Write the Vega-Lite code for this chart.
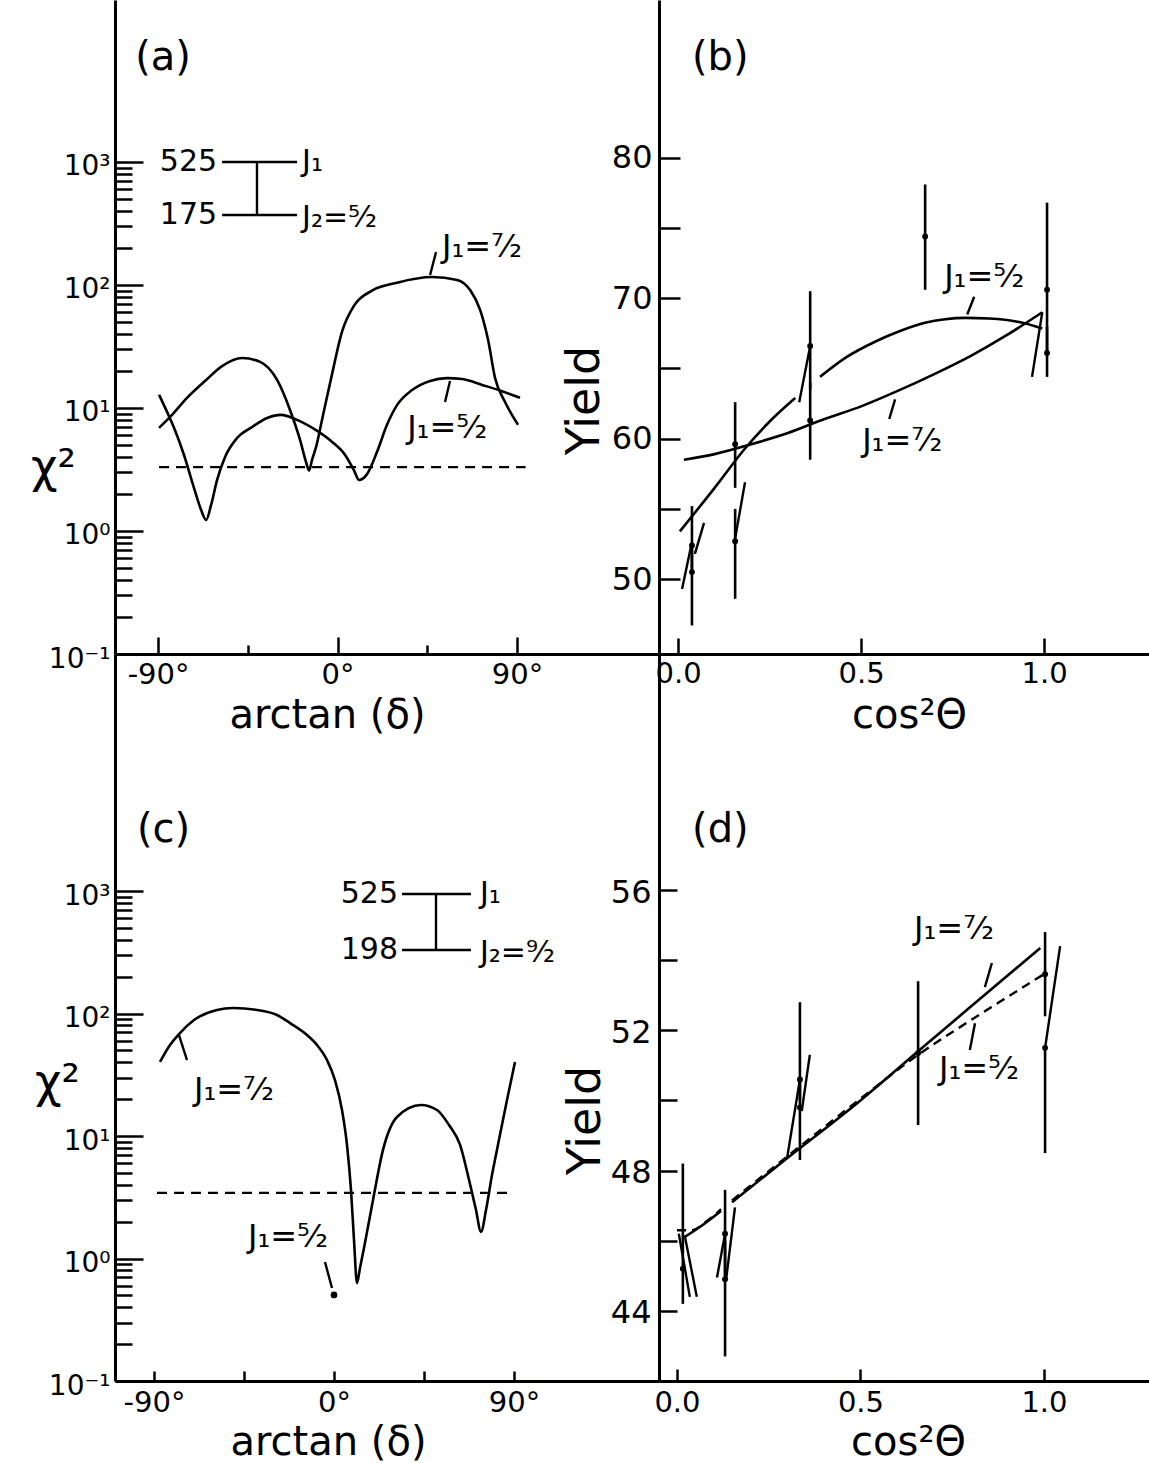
{
  "$schema": "https://vega.github.io/schema/vega-lite/v6.json",
  "background": "white",
  "padding": {"left": 30, "top": 0, "right": 0, "bottom": 0},
  "config": {
    "font": "DejaVu Sans",
    "view": {"stroke": null},
    "axis": {"domainColor": "black", "domainWidth": 3, "tickColor": "black", "tickWidth": 2.5, "labelColor": "black", "titleColor": "black", "titleFontWeight": "normal", "grid": false, "labelFlush": false, "labelOverlap": false, "labelBound": false}
  },
  "datasets": {
    "curvesA": [
      {"J": "7/2", "deg": -89.5, "chi": 6.9}, {"J": "7/2", "deg": -83, "chi": 8.8}, {"J": "7/2", "deg": -75.5, "chi": 12.1}, {"J": "7/2", "deg": -65.9, "chi": 16.9}, {"J": "7/2", "deg": -57.9, "chi": 21.9}, {"J": "7/2", "deg": -47.9, "chi": 25.5}, {"J": "7/2", "deg": -38.8, "chi": 23.7}, {"J": "7/2", "deg": -30.3, "chi": 16.9}, {"J": "7/2", "deg": -23.8, "chi": 9.6}, {"J": "7/2", "deg": -18.8, "chi": 5.5}, {"J": "7/2", "deg": -15.8, "chi": 3.64}, {"J": "7/2", "deg": -14.3, "chi": 3.1}, {"J": "7/2", "deg": -12.8, "chi": 3.78}, {"J": "7/2", "deg": -10.8, "chi": 4.8}, {"J": "7/2", "deg": -7.8, "chi": 8.0}, {"J": "7/2", "deg": -3.2, "chi": 17.5}, {"J": "7/2", "deg": 2.3, "chi": 42}, {"J": "7/2", "deg": 8.3, "chi": 68}, {"J": "7/2", "deg": 17.3, "chi": 90}, {"J": "7/2", "deg": 29.9, "chi": 104.5}, {"J": "7/2", "deg": 47.4, "chi": 116}, {"J": "7/2", "deg": 60, "chi": 110}, {"J": "7/2", "deg": 66.5, "chi": 91}, {"J": "7/2", "deg": 71.5, "chi": 62.7}, {"J": "7/2", "deg": 75.5, "chi": 35.7}, {"J": "7/2", "deg": 79, "chi": 17.5}, {"J": "7/2", "deg": 84, "chi": 11.2}, {"J": "7/2", "deg": 90.5, "chi": 7.3},
      {"J": "5/2", "deg": -89.5, "chi": 12.8}, {"J": "5/2", "deg": -85.5, "chi": 9.3}, {"J": "5/2", "deg": -81.5, "chi": 6.6}, {"J": "5/2", "deg": -77, "chi": 4.15}, {"J": "5/2", "deg": -72, "chi": 2.24}, {"J": "5/2", "deg": -68.4, "chi": 1.48}, {"J": "5/2", "deg": -65.9, "chi": 1.23}, {"J": "5/2", "deg": -63.4, "chi": 1.63}, {"J": "5/2", "deg": -60.4, "chi": 2.6}, {"J": "5/2", "deg": -56.4, "chi": 4.0}, {"J": "5/2", "deg": -50.4, "chi": 5.7}, {"J": "5/2", "deg": -42.9, "chi": 7.0}, {"J": "5/2", "deg": -35.3, "chi": 8.3}, {"J": "5/2", "deg": -28.3, "chi": 8.8}, {"J": "5/2", "deg": -20.3, "chi": 8.0}, {"J": "5/2", "deg": -10.8, "chi": 6.6}, {"J": "5/2", "deg": -2.7, "chi": 5.3}, {"J": "5/2", "deg": 3.8, "chi": 4.15}, {"J": "5/2", "deg": 8.3, "chi": 3.1}, {"J": "5/2", "deg": 10.8, "chi": 2.6}, {"J": "5/2", "deg": 14.8, "chi": 2.9}, {"J": "5/2", "deg": 19.8, "chi": 4.4}, {"J": "5/2", "deg": 24.8, "chi": 7.3}, {"J": "5/2", "deg": 29.9, "chi": 10.6}, {"J": "5/2", "deg": 37.4, "chi": 14}, {"J": "5/2", "deg": 46.4, "chi": 16.6}, {"J": "5/2", "deg": 54.9, "chi": 17.5}, {"J": "5/2", "deg": 62.5, "chi": 17.2}, {"J": "5/2", "deg": 72.5, "chi": 15.4}, {"J": "5/2", "deg": 82.5, "chi": 13.7}, {"J": "5/2", "deg": 91.5, "chi": 12.1}
    ],
    "curvesC": [
      {"deg": -87, "chi": 40.2}, {"deg": -82, "chi": 55.3}, {"deg": -77.5, "chi": 68}, {"deg": -70, "chi": 88.5}, {"deg": -58.5, "chi": 107}, {"deg": -50.5, "chi": 110.9}, {"deg": -38.5, "chi": 107}, {"deg": -28.5, "chi": 97.3}, {"deg": -22, "chi": 83.6}, {"deg": -13.5, "chi": 66.7}, {"deg": -8.5, "chi": 55.3}, {"deg": -3.5, "chi": 41.7}, {"deg": 0.5, "chi": 28.6}, {"deg": 4, "chi": 16.3}, {"deg": 6.5, "chi": 8.45}, {"deg": 8.5, "chi": 3.62}, {"deg": 10, "chi": 1.42}, {"deg": 11.5, "chi": 0.63}, {"deg": 13, "chi": 0.836}, {"deg": 15, "chi": 1.22}, {"deg": 19.5, "chi": 3.0}, {"deg": 24.5, "chi": 7.7}, {"deg": 31.5, "chi": 14.3}, {"deg": 43.5, "chi": 17.9}, {"deg": 51.5, "chi": 16.3}, {"deg": 57.5, "chi": 12.3}, {"deg": 63, "chi": 8.5}, {"deg": 67.5, "chi": 4.4}, {"deg": 71, "chi": 2.49}, {"deg": 73.5, "chi": 1.65}, {"deg": 76, "chi": 2.49}, {"deg": 79, "chi": 4.8}, {"deg": 82, "chi": 8.5}, {"deg": 86.5, "chi": 19.7}, {"deg": 90.5, "chi": 40.2}
    ],
    "linesB": [
      {"seg": "a", "c": 0.016, "Y": 58.5}, {"seg": "a", "c": 0.1, "Y": 58.9}, {"seg": "a", "c": 0.2, "Y": 59.6}, {"seg": "a", "c": 0.3, "Y": 60.4}, {"seg": "a", "c": 0.4, "Y": 61.4}, {"seg": "a", "c": 0.5, "Y": 62.3}, {"seg": "a", "c": 0.6, "Y": 63.4}, {"seg": "a", "c": 0.7, "Y": 64.6}, {"seg": "a", "c": 0.8, "Y": 65.9}, {"seg": "a", "c": 0.9, "Y": 67.4}, {"seg": "a", "c": 0.995, "Y": 69.0},
      {"seg": "b", "c": 0.005, "Y": 53.4}, {"seg": "b", "c": 0.1, "Y": 56.5}, {"seg": "b", "c": 0.183, "Y": 59.3}, {"seg": "b", "c": 0.257, "Y": 61.4}, {"seg": "b", "c": 0.32, "Y": 62.9},
      {"seg": "c", "c": 0.388, "Y": 64.4}, {"seg": "c", "c": 0.46, "Y": 65.8}, {"seg": "c", "c": 0.538, "Y": 66.9}, {"seg": "c", "c": 0.61, "Y": 67.7}, {"seg": "c", "c": 0.675, "Y": 68.25}, {"seg": "c", "c": 0.73, "Y": 68.5}, {"seg": "c", "c": 0.784, "Y": 68.6}, {"seg": "c", "c": 0.85, "Y": 68.55}, {"seg": "c", "c": 0.932, "Y": 68.3}, {"seg": "c", "c": 0.995, "Y": 67.85}
    ],
    "linesD": [
      {"J": "7/2", "seg": "a", "c": 0.02, "Y": 46.1}, {"J": "7/2", "seg": "a", "c": 0.07, "Y": 46.45}, {"J": "7/2", "seg": "a", "c": 0.12, "Y": 46.85},
      {"J": "7/2", "seg": "b", "c": 0.15, "Y": 47.1}, {"J": "7/2", "seg": "b", "c": 0.3, "Y": 48.35}, {"J": "7/2", "seg": "b", "c": 0.5, "Y": 50.0}, {"J": "7/2", "seg": "b", "c": 0.657, "Y": 51.4}, {"J": "7/2", "seg": "b", "c": 0.8, "Y": 52.67}, {"J": "7/2", "seg": "b", "c": 0.99, "Y": 54.35},
      {"J": "5/2", "seg": "c", "c": 0.0, "Y": 46.3}, {"J": "5/2", "seg": "c", "c": 0.04, "Y": 46.3}, {"J": "5/2", "seg": "c", "c": 0.08, "Y": 46.55}, {"J": "5/2", "seg": "c", "c": 0.12, "Y": 46.9},
      {"J": "5/2", "seg": "d", "c": 0.15, "Y": 47.15}, {"J": "5/2", "seg": "d", "c": 0.3, "Y": 48.4}, {"J": "5/2", "seg": "d", "c": 0.5, "Y": 50.05}, {"J": "5/2", "seg": "d", "c": 0.657, "Y": 51.3}, {"J": "5/2", "seg": "d", "c": 0.81, "Y": 52.35}, {"J": "5/2", "seg": "d", "c": 1.0, "Y": 53.6}
    ],
    "ptsB": [
      {"c": 0.038, "Y": 52.4, "lo": 50.5, "hi": 55.2}, {"c": 0.038, "Y": 50.5, "lo": 46.7, "hi": 52.4},
      {"c": 0.156, "Y": 59.6, "lo": 56.5, "hi": 62.6}, {"c": 0.156, "Y": 52.7, "lo": 48.6, "hi": 55.0},
      {"c": 0.361, "Y": 66.6, "lo": 63.5, "hi": 70.5}, {"c": 0.361, "Y": 61.3, "lo": 58.5, "hi": 64.0},
      {"c": 0.675, "Y": 74.4, "lo": 70.6, "hi": 78.1},
      {"c": 1.008, "Y": 70.6, "lo": 66.0, "hi": 76.8}, {"c": 1.008, "Y": 66.1, "lo": 64.4, "hi": 68.0}
    ],
    "ptsD": [
      {"c": 1.003, "Y": 53.6, "lo": 52.4, "hi": 54.8}, {"c": 1.003, "Y": 51.5, "lo": 48.5, "hi": 51.5},
      {"c": 0.657, "Y": 51.35, "lo": 49.3, "hi": 53.4},
      {"c": 0.335, "Y": 50.6, "lo": 50.0, "hi": 52.8}, {"c": 0.335, "Y": 49.8, "lo": 48.3, "hi": 50.6},
      {"c": 0.131, "Y": 46.2, "lo": 45.0, "hi": 47.45}, {"c": 0.131, "Y": 44.9, "lo": 42.7, "hi": 46.0},
      {"c": 0.016, "Y": 45.2, "lo": 44.2, "hi": 48.2}
    ],
    "ptC": [{"deg": 0, "chi": 0.504}],
    "dashes": [
      {"panel": "a", "x1": -89.5, "x2": 94.3, "y": 3.31},
      {"panel": "c", "x1": -88.5, "x2": 86.5, "y": 3.43}
    ],
    "segs": [
      {"panel": "a", "x1": -57.9, "x2": -20.3, "y1": 1000, "y2": 1000},
      {"panel": "a", "x1": -57.9, "x2": -20.3, "y1": 371, "y2": 371},
      {"panel": "a", "x1": -40.4, "x2": -40.4, "y1": 371, "y2": 1000},
      {"panel": "a", "x1": 46.4, "x2": 49.4, "y1": 120.5, "y2": 185},
      {"panel": "a", "x1": 53.9, "x2": 56.4, "y1": 11.2, "y2": 16.6},
      {"panel": "c", "x1": 34, "x2": 68.5, "y1": 946, "y2": 946},
      {"panel": "c", "x1": 34, "x2": 68.5, "y1": 330, "y2": 330},
      {"panel": "c", "x1": 51, "x2": 51, "y1": 330, "y2": 946},
      {"panel": "c", "x1": -77.5, "x2": -73.5, "y1": 66.7, "y2": 41.7},
      {"panel": "c", "x1": -4.5, "x2": -1, "y1": 0.936, "y2": 0.574},
      {"panel": "b", "x1": 0.79, "x2": 0.809, "y1": 68.84, "y2": 70.1},
      {"panel": "b", "x1": 0.577, "x2": 0.593, "y1": 61.4, "y2": 62.8},
      {"panel": "b", "x1": 0.011, "x2": 0.036, "y1": 49.3, "y2": 52.4},
      {"panel": "b", "x1": 0.046, "x2": 0.071, "y1": 51.8, "y2": 54.0},
      {"panel": "b", "x1": 0.156, "x2": 0.183, "y1": 52.9, "y2": 56.9},
      {"panel": "b", "x1": 0.331, "x2": 0.361, "y1": 62.6, "y2": 66.6},
      {"panel": "b", "x1": 0.967, "x2": 0.995, "y1": 64.4, "y2": 69.0},
      {"panel": "d", "x1": 0.839, "x2": 0.858, "y1": 53.23, "y2": 53.92},
      {"panel": "d", "x1": 0.798, "x2": 0.812, "y1": 51.44, "y2": 52.2},
      {"panel": "d", "x1": 0.005, "x2": 0.035, "y1": 46.2, "y2": 44.4},
      {"panel": "d", "x1": 0.022, "x2": 0.054, "y1": 46.1, "y2": 44.4},
      {"panel": "d", "x1": 0.109, "x2": 0.131, "y1": 44.95, "y2": 46.2},
      {"panel": "d", "x1": 0.134, "x2": 0.158, "y1": 44.9, "y2": 46.95},
      {"panel": "d", "x1": 0.3, "x2": 0.335, "y1": 48.36, "y2": 50.6},
      {"panel": "d", "x1": 0.34, "x2": 0.362, "y1": 49.7, "y2": 51.3},
      {"panel": "d", "x1": 1.003, "x2": 1.044, "y1": 51.5, "y2": 54.4}
    ],
    "texts": [
      {"panel": "a", "role": "panel", "x": -101.5, "y": 7015, "t": "(a)"},
      {"panel": "a", "role": "levelR", "x": -60.4, "y": 1000, "t": "525"},
      {"panel": "a", "role": "levelR", "x": -60.4, "y": 371, "t": "175"},
      {"panel": "a", "role": "levelL", "x": -17.8, "y": 1000, "t": "J₁"},
      {"panel": "a", "role": "levelL", "x": -17.8, "y": 351, "t": "J₂=⁵⁄₂"},
      {"panel": "a", "role": "jlab", "x": 52.4, "y": 204, "t": "J₁=⁷⁄₂"},
      {"panel": "a", "role": "jlab", "x": 34.9, "y": 6.87, "t": "J₁=⁵⁄₂"},
      {"panel": "b", "role": "panel", "x": 0.038, "y": 87.1, "t": "(b)"},
      {"panel": "b", "role": "jlab", "x": 0.727, "y": 71.5, "t": "J₁=⁵⁄₂"},
      {"panel": "b", "role": "jlab", "x": 0.503, "y": 59.8, "t": "J₁=⁷⁄₂"},
      {"panel": "c", "role": "panel", "x": -98.5, "y": 3148, "t": "(c)"},
      {"panel": "c", "role": "levelR", "x": 32, "y": 946, "t": "525"},
      {"panel": "c", "role": "levelR", "x": 32, "y": 330, "t": "198"},
      {"panel": "c", "role": "levelL", "x": 73, "y": 946, "t": "J₁"},
      {"panel": "c", "role": "levelL", "x": 73, "y": 312, "t": "J₂=⁹⁄₂"},
      {"panel": "c", "role": "jlab", "x": -70, "y": 23.8, "t": "J₁=⁷⁄₂"},
      {"panel": "c", "role": "jlab", "x": -43, "y": 1.5, "t": "J₁=⁵⁄₂"},
      {"panel": "d", "role": "panel", "x": 0.041, "y": 57.7, "t": "(d)"},
      {"panel": "d", "role": "jlab", "x": 0.646, "y": 54.9, "t": "J₁=⁷⁄₂"},
      {"panel": "d", "role": "jlab", "x": 0.714, "y": 50.9, "t": "J₁=⁵⁄₂"}
    ]
  },
  "columns": 2,
  "spacing": 0,
  "bounds": "flush",
  "align": "each",
  "concat": [
    {
      "width": 544, "height": 654,
      "layer": [
        {
          "data": {"name": "curvesA"},
          "mark": {"type": "line", "color": "black", "strokeWidth": 2.6, "interpolate": "monotone"},
          "encoding": {
            "x": {"field": "deg", "type": "quantitative", "scale": {"domain": [-111.6, 161.2], "nice": false, "zero": false},
              "axis": {"orient": "bottom", "values": [-90, 0, 90], "labelExpr": "datum.value < -1 ? '-90°' : datum.value > 1 ? '90°' : '0°'", "tickSize": -17, "labelPadding": 23, "labelFontSize": 29, "labelBaseline": "top", "title": "arctan (δ)", "titleFontSize": 40, "titleX": 212, "titleY": 61, "titleAlign": "center", "titleBaseline": "middle"}},
            "y": {"field": "chi", "type": "quantitative", "scale": {"type": "log", "domain": [0.1, 20750], "nice": false},
              "axis": {"orient": "left", "values": [0.1, 1, 10, 100, 1000], "labelExpr": "datum.value > 999 ? '10³' : datum.value > 99 ? '10²' : datum.value > 9 ? '10¹' : datum.value > 0.9 ? '10⁰' : '10⁻¹'", "tickSize": -28, "labelPadding": 33, "labelFontSize": 28, "labelOffset": 5, "labelBaseline": "middle", "title": "χ²", "titleAngle": 0, "titleFontSize": 46, "titleX": -62, "titleY": 467, "titleAlign": "center", "titleBaseline": "middle"}},
            "detail": {"field": "J", "type": "nominal"}
          }
        },
        {
          "data": {"name": "dashes"},
          "transform": [{"filter": "datum.panel == 'a'"}],
          "mark": {"type": "rule", "color": "black", "strokeWidth": 2.2, "strokeDash": [10, 7]},
          "encoding": {
            "x": {"field": "x1", "type": "quantitative", "axis": {"orient": "bottom", "values": [-45, 45], "labels": false, "tickSize": -9, "domain": false, "title": null}},
            "x2": {"field": "x2"},
            "y": {"field": "y", "type": "quantitative", "axis": {"orient": "left", "values": [0.2, 0.3, 0.4, 0.5, 0.6, 0.7, 0.8, 0.9, 2, 3, 4, 5, 6, 7, 8, 9, 20, 30, 40, 50, 60, 70, 80, 90, 200, 300, 400, 500, 600, 700, 800, 900], "labels": false, "tickSize": -17, "domain": false, "title": null}}
          }
        },
        {
          "data": {"name": "segs"},
          "transform": [{"filter": "datum.panel == 'a'"}],
          "mark": {"type": "rule", "color": "black", "strokeWidth": 2.4},
          "encoding": {
            "x": {"field": "x1", "type": "quantitative", "axis": null},
            "x2": {"field": "x2"},
            "y": {"field": "y1", "type": "quantitative", "axis": null},
            "y2": {"field": "y2"}
          }
        },
        {
          "data": {"name": "texts"},
          "transform": [{"filter": "datum.panel == 'a' && datum.role == 'panel'"}],
          "mark": {"type": "text", "align": "left", "baseline": "middle", "fontSize": 40, "color": "black"},
          "encoding": {"x": {"field": "x", "type": "quantitative", "axis": null}, "y": {"field": "y", "type": "quantitative", "axis": null}, "text": {"field": "t"}}
        },
        {
          "data": {"name": "texts"},
          "transform": [{"filter": "datum.panel == 'a' && datum.role == 'levelR'"}],
          "mark": {"type": "text", "align": "right", "baseline": "middle", "fontSize": 30, "color": "black"},
          "encoding": {"x": {"field": "x", "type": "quantitative", "axis": null}, "y": {"field": "y", "type": "quantitative", "axis": null}, "text": {"field": "t"}}
        },
        {
          "data": {"name": "texts"},
          "transform": [{"filter": "datum.panel == 'a' && datum.role == 'levelL'"}],
          "mark": {"type": "text", "align": "left", "baseline": "middle", "fontSize": 30, "color": "black"},
          "encoding": {"x": {"field": "x", "type": "quantitative", "axis": null}, "y": {"field": "y", "type": "quantitative", "axis": null}, "text": {"field": "t"}}
        },
        {
          "data": {"name": "texts"},
          "transform": [{"filter": "datum.panel == 'a' && datum.role == 'jlab'"}],
          "mark": {"type": "text", "align": "left", "baseline": "middle", "fontSize": 32, "color": "black"},
          "encoding": {"x": {"field": "x", "type": "quantitative", "axis": null}, "y": {"field": "y", "type": "quantitative", "axis": null}, "text": {"field": "t"}}
        }
      ],
      "resolve": {"axis": {"x": "independent", "y": "independent"}}
    },
    {
      "width": 492, "height": 654,
      "layer": [
        {
          "data": {"name": "linesB"},
          "mark": {"type": "line", "color": "black", "strokeWidth": 2.6, "interpolate": "monotone"},
          "encoding": {
            "x": {"field": "c", "type": "quantitative", "scale": {"domain": [-0.052, 1.292], "nice": false, "zero": false},
              "axis": {"orient": "bottom", "values": [0, 0.5, 1], "format": ".1f", "tickSize": -16, "labelPadding": 21, "labelFontSize": 29, "labelBaseline": "top", "title": "cos²Θ", "titleFontSize": 40, "titleX": 250, "titleY": 61, "titleAlign": "center", "titleBaseline": "middle"}},
            "y": {"field": "Y", "type": "quantitative", "scale": {"domain": [44.67, 91.23], "nice": false, "zero": false},
              "axis": {"orient": "left", "values": [50, 55, 60, 65, 70, 75, 80], "labelExpr": "datum.value % 10 == 0 ? datum.label : ''", "tickSize": -21, "labelPadding": 28, "labelFontSize": 32, "labelBaseline": "middle", "title": "Yield", "titleAngle": -90, "titleFontSize": 46, "titleX": -75, "titleY": 400, "titleAlign": "center", "titleBaseline": "middle"}},
            "detail": {"field": "seg", "type": "nominal"}
          }
        },
        {
          "data": {"name": "ptsB"},
          "mark": {"type": "rule", "color": "black", "strokeWidth": 2.6},
          "encoding": {"x": {"field": "c", "type": "quantitative"}, "y": {"field": "lo", "type": "quantitative"}, "y2": {"field": "hi"}}
        },
        {
          "data": {"name": "ptsB"},
          "mark": {"type": "point", "filled": true, "color": "black", "opacity": 1, "size": 35},
          "encoding": {"x": {"field": "c", "type": "quantitative"}, "y": {"field": "Y", "type": "quantitative"}}
        },
        {
          "data": {"name": "segs"},
          "transform": [{"filter": "datum.panel == 'b'"}],
          "mark": {"type": "rule", "color": "black", "strokeWidth": 2.4},
          "encoding": {"x": {"field": "x1", "type": "quantitative"}, "x2": {"field": "x2"}, "y": {"field": "y1", "type": "quantitative"}, "y2": {"field": "y2"}}
        },
        {
          "data": {"name": "texts"},
          "transform": [{"filter": "datum.panel == 'b' && datum.role == 'panel'"}],
          "mark": {"type": "text", "align": "left", "baseline": "middle", "fontSize": 40, "color": "black"},
          "encoding": {"x": {"field": "x", "type": "quantitative"}, "y": {"field": "y", "type": "quantitative"}, "text": {"field": "t"}}
        },
        {
          "data": {"name": "texts"},
          "transform": [{"filter": "datum.panel == 'b' && datum.role == 'jlab'"}],
          "mark": {"type": "text", "align": "left", "baseline": "middle", "fontSize": 32, "color": "black"},
          "encoding": {"x": {"field": "x", "type": "quantitative"}, "y": {"field": "y", "type": "quantitative"}, "text": {"field": "t"}}
        }
      ]
    },
    {
      "width": 544, "height": 727,
      "layer": [
        {
          "data": {"name": "curvesC"},
          "mark": {"type": "line", "color": "black", "strokeWidth": 2.6, "interpolate": "monotone"},
          "encoding": {
            "x": {"field": "deg", "type": "quantitative", "scale": {"domain": [-109.5, 162.5], "nice": false, "zero": false},
              "axis": {"orient": "bottom", "values": [-90, -45, 0, 45, 90], "labelExpr": "datum.value == -90 ? '-90°' : datum.value == 0 ? '0°' : datum.value == 90 ? '90°' : ''", "tickSize": -10, "labelPadding": 17, "labelFontSize": 29, "labelBaseline": "top", "title": "arctan (δ)", "titleFontSize": 40, "titleX": 213, "titleY": 61, "titleAlign": "center", "titleBaseline": "middle"}},
            "y": {"field": "chi", "type": "quantitative", "scale": {"type": "log", "domain": [0.1, 86100], "nice": false},
              "axis": {"orient": "left", "values": [0.1, 1, 10, 100, 1000], "labelExpr": "datum.value > 999 ? '10³' : datum.value > 99 ? '10²' : datum.value > 9 ? '10¹' : datum.value > 0.9 ? '10⁰' : '10⁻¹'", "tickSize": -28, "labelPadding": 33, "labelFontSize": 28, "labelOffset": 5, "labelBaseline": "middle", "title": "χ²", "titleAngle": 0, "titleFontSize": 46, "titleX": -58, "titleY": 428, "titleAlign": "center", "titleBaseline": "middle"}}
          }
        },
        {
          "data": {"name": "dashes"},
          "transform": [{"filter": "datum.panel == 'c'"}],
          "mark": {"type": "rule", "color": "black", "strokeWidth": 2.2, "strokeDash": [10, 7]},
          "encoding": {
            "x": {"field": "x1", "type": "quantitative", "axis": null},
            "x2": {"field": "x2"},
            "y": {"field": "y", "type": "quantitative", "axis": {"orient": "left", "values": [0.2, 0.3, 0.4, 0.5, 0.6, 0.7, 0.8, 0.9, 2, 3, 4, 5, 6, 7, 8, 9, 20, 30, 40, 50, 60, 70, 80, 90, 200, 300, 400, 500, 600, 700, 800, 900], "labels": false, "tickSize": -17, "domain": false, "title": null}}
          }
        },
        {
          "data": {"name": "ptC"},
          "mark": {"type": "point", "filled": true, "color": "black", "opacity": 1, "size": 45},
          "encoding": {"x": {"field": "deg", "type": "quantitative", "axis": null}, "y": {"field": "chi", "type": "quantitative", "axis": null}}
        },
        {
          "data": {"name": "segs"},
          "transform": [{"filter": "datum.panel == 'c'"}],
          "mark": {"type": "rule", "color": "black", "strokeWidth": 2.4},
          "encoding": {
            "x": {"field": "x1", "type": "quantitative", "axis": null},
            "x2": {"field": "x2"},
            "y": {"field": "y1", "type": "quantitative", "axis": null},
            "y2": {"field": "y2"}
          }
        },
        {
          "data": {"name": "texts"},
          "transform": [{"filter": "datum.panel == 'c' && datum.role == 'panel'"}],
          "mark": {"type": "text", "align": "left", "baseline": "middle", "fontSize": 40, "color": "black"},
          "encoding": {"x": {"field": "x", "type": "quantitative", "axis": null}, "y": {"field": "y", "type": "quantitative", "axis": null}, "text": {"field": "t"}}
        },
        {
          "data": {"name": "texts"},
          "transform": [{"filter": "datum.panel == 'c' && datum.role == 'levelR'"}],
          "mark": {"type": "text", "align": "right", "baseline": "middle", "fontSize": 30, "color": "black"},
          "encoding": {"x": {"field": "x", "type": "quantitative", "axis": null}, "y": {"field": "y", "type": "quantitative", "axis": null}, "text": {"field": "t"}}
        },
        {
          "data": {"name": "texts"},
          "transform": [{"filter": "datum.panel == 'c' && datum.role == 'levelL'"}],
          "mark": {"type": "text", "align": "left", "baseline": "middle", "fontSize": 30, "color": "black"},
          "encoding": {"x": {"field": "x", "type": "quantitative", "axis": null}, "y": {"field": "y", "type": "quantitative", "axis": null}, "text": {"field": "t"}}
        },
        {
          "data": {"name": "texts"},
          "transform": [{"filter": "datum.panel == 'c' && datum.role == 'jlab'"}],
          "mark": {"type": "text", "align": "left", "baseline": "middle", "fontSize": 32, "color": "black"},
          "encoding": {"x": {"field": "x", "type": "quantitative", "axis": null}, "y": {"field": "y", "type": "quantitative", "axis": null}, "text": {"field": "t"}}
        }
      ],
      "resolve": {"axis": {"x": "independent", "y": "independent"}}
    },
    {
      "width": 492, "height": 727,
      "layer": [
        {
          "data": {"name": "linesD"},
          "transform": [{"filter": "datum.J == '7/2'"}],
          "mark": {"type": "line", "color": "black", "strokeWidth": 2.6, "interpolate": "monotone"},
          "encoding": {
            "x": {"field": "c", "type": "quantitative", "scale": {"domain": [-0.049, 1.2916], "nice": false, "zero": false},
              "axis": {"orient": "bottom", "values": [0, 0.5, 1], "format": ".1f", "tickSize": -12, "labelPadding": 19, "labelFontSize": 29, "labelBaseline": "top", "title": "cos²Θ", "titleFontSize": 40, "titleX": 249, "titleY": 61, "titleAlign": "center", "titleBaseline": "middle"}},
            "y": {"field": "Y", "type": "quantitative", "scale": {"domain": [42.0, 62.73], "nice": false, "zero": false},
              "axis": {"orient": "left", "values": [44, 46, 48, 50, 52, 54, 56], "labelExpr": "datum.value % 4 == 0 ? datum.label : ''", "tickSize": -18, "labelPadding": 26, "labelFontSize": 32, "labelOffset": 2, "labelBaseline": "middle", "title": "Yield", "titleAngle": -90, "titleFontSize": 46, "titleX": -74, "titleY": 466, "titleAlign": "center", "titleBaseline": "middle"}},
            "detail": {"field": "seg", "type": "nominal"}
          }
        },
        {
          "data": {"name": "linesD"},
          "transform": [{"filter": "datum.J == '5/2'"}],
          "mark": {"type": "line", "color": "black", "strokeWidth": 2.4, "strokeDash": [9, 6], "interpolate": "monotone"},
          "encoding": {"x": {"field": "c", "type": "quantitative"}, "y": {"field": "Y", "type": "quantitative"}, "detail": {"field": "seg", "type": "nominal"}}
        },
        {
          "data": {"name": "ptsD"},
          "mark": {"type": "rule", "color": "black", "strokeWidth": 2.6},
          "encoding": {"x": {"field": "c", "type": "quantitative"}, "y": {"field": "lo", "type": "quantitative"}, "y2": {"field": "hi"}}
        },
        {
          "data": {"name": "ptsD"},
          "mark": {"type": "point", "filled": true, "color": "black", "opacity": 1, "size": 35},
          "encoding": {"x": {"field": "c", "type": "quantitative"}, "y": {"field": "Y", "type": "quantitative"}}
        },
        {
          "data": {"name": "segs"},
          "transform": [{"filter": "datum.panel == 'd'"}],
          "mark": {"type": "rule", "color": "black", "strokeWidth": 2.4},
          "encoding": {"x": {"field": "x1", "type": "quantitative"}, "x2": {"field": "x2"}, "y": {"field": "y1", "type": "quantitative"}, "y2": {"field": "y2"}}
        },
        {
          "data": {"name": "texts"},
          "transform": [{"filter": "datum.panel == 'd' && datum.role == 'panel'"}],
          "mark": {"type": "text", "align": "left", "baseline": "middle", "fontSize": 40, "color": "black"},
          "encoding": {"x": {"field": "x", "type": "quantitative"}, "y": {"field": "y", "type": "quantitative"}, "text": {"field": "t"}}
        },
        {
          "data": {"name": "texts"},
          "transform": [{"filter": "datum.panel == 'd' && datum.role == 'jlab'"}],
          "mark": {"type": "text", "align": "left", "baseline": "middle", "fontSize": 32, "color": "black"},
          "encoding": {"x": {"field": "x", "type": "quantitative"}, "y": {"field": "y", "type": "quantitative"}, "text": {"field": "t"}}
        }
      ]
    }
  ]
}
